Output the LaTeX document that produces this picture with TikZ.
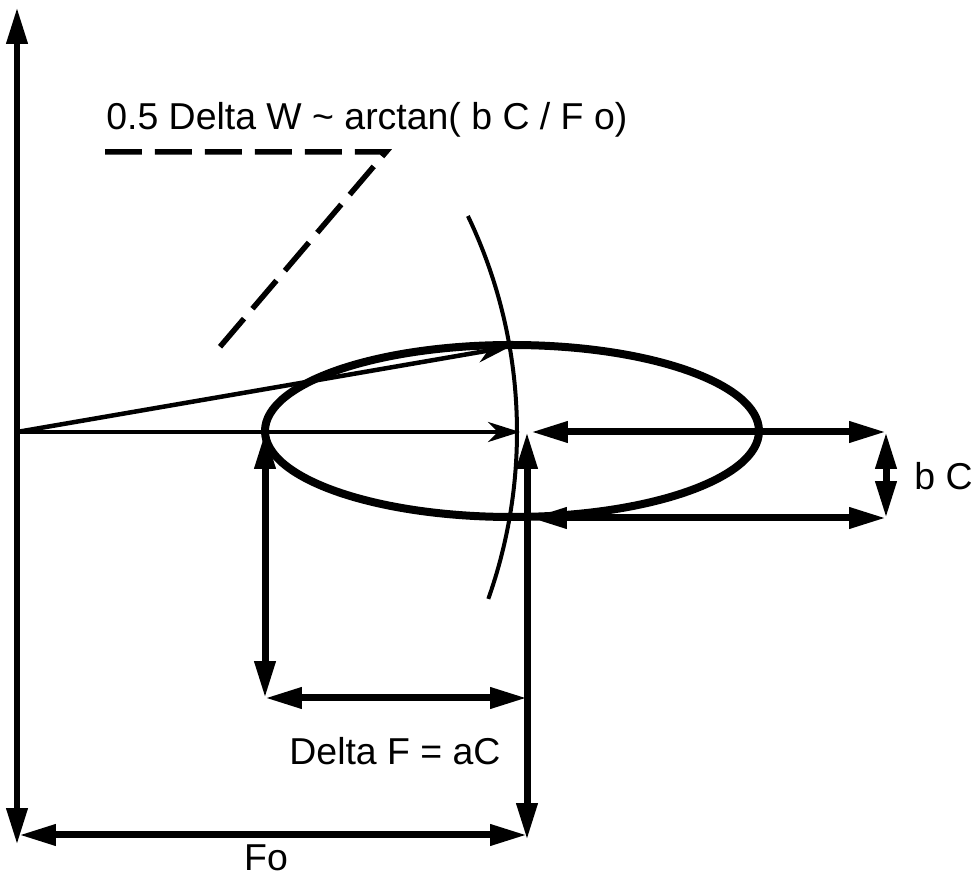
\documentclass[tikz,border=0pt]{standalone}
\usepackage{fontspec}
\setmainfont{Liberation Sans}
\usetikzlibrary{arrows.meta}
\tikzset{
  every node/.style={font=\fontsize{21.3}{25}\selectfont, inner sep=0pt},
  dimarrow/.style={line width=0.14cm,
    {Triangle[length=0.74cm,width=0.4cm]}-{Triangle[length=0.74cm,width=0.4cm]}},
  vecarrow/.style={line width=0.09cm, -{Stealth[length=0.64cm,width=0.4cm,inset=0.2cm]}},
  orbit/.style={line width=0.16cm},
  arcline/.style={line width=0.08cm},
  dashline/.style={line width=0.11cm, dash pattern=on 0.74cm off 0.26cm}
}
\begin{document}
\begin{tikzpicture}[x=0.02cm,y=-0.02cm]
  \useasboundingbox (0,0) rectangle (975,878);
  \coordinate (O) at (17,432);
  \coordinate (C) at (527,432);
  \coordinate (E) at (512,431);
  \coordinate (top) at (17,7);
  \coordinate (bot) at (17,845);
  \coordinate (Cbot) at (527,840);
  \coordinate (Cin) at (520,432);
  \coordinate (Cr) at (531,432);
  \coordinate (L) at (265,432);
  \coordinate (Lbot) at (265,698);
  \coordinate (Rbot) at (527,698);
  \coordinate (R1) at (886,432);
  \coordinate (R2) at (886,518);
  \coordinate (B) at (530,518);
  \coordinate (Fl) at (19,835);
  \coordinate (Fr) at (527,835);
  \coordinate (d1) at (105,152);
  \coordinate (d2) at (386,152);
  \coordinate (d3) at (213,355);
  % ellipse and arc
  \draw[orbit] (E) ellipse [x radius=247, y radius=86];
  \draw[arcline] (O) ++(-25.6:500) arc[start angle=-25.6, end angle=19.5, radius=500];
  \draw[dashline] (d1) -- (d2) -- (d3);
  % vectors
  \draw[vecarrow] (O) -- ++(-9.8:500);
  \draw[vecarrow] (O) -- (Cin);
  % dimension arrows
  \draw[dimarrow] (bot) -- (top);
  \draw[dimarrow] (C) -- (Cbot);
  \draw[dimarrow] (L) -- (Lbot);
  \draw[dimarrow] (Lbot) -- (Rbot);
  \draw[dimarrow] (Fl) -- (Fr);
  \draw[dimarrow] (Cr) -- (R1);
  \draw[dimarrow] (B) -- (R2);
  \draw[dimarrow] (R1) -- (R2);
  \node[anchor=base west] (title) at (106,130) {0.5 Delta W \textasciitilde{} arctan( b C / F o)};
  \node[anchor=base] (dF) at (395,765) {Delta F = aC};
  \node[anchor=base] (Fo) at (266,871) {Fo};
  \node[anchor=base west] (bC) at (914,490) {b C};
\end{tikzpicture}
\end{document}
